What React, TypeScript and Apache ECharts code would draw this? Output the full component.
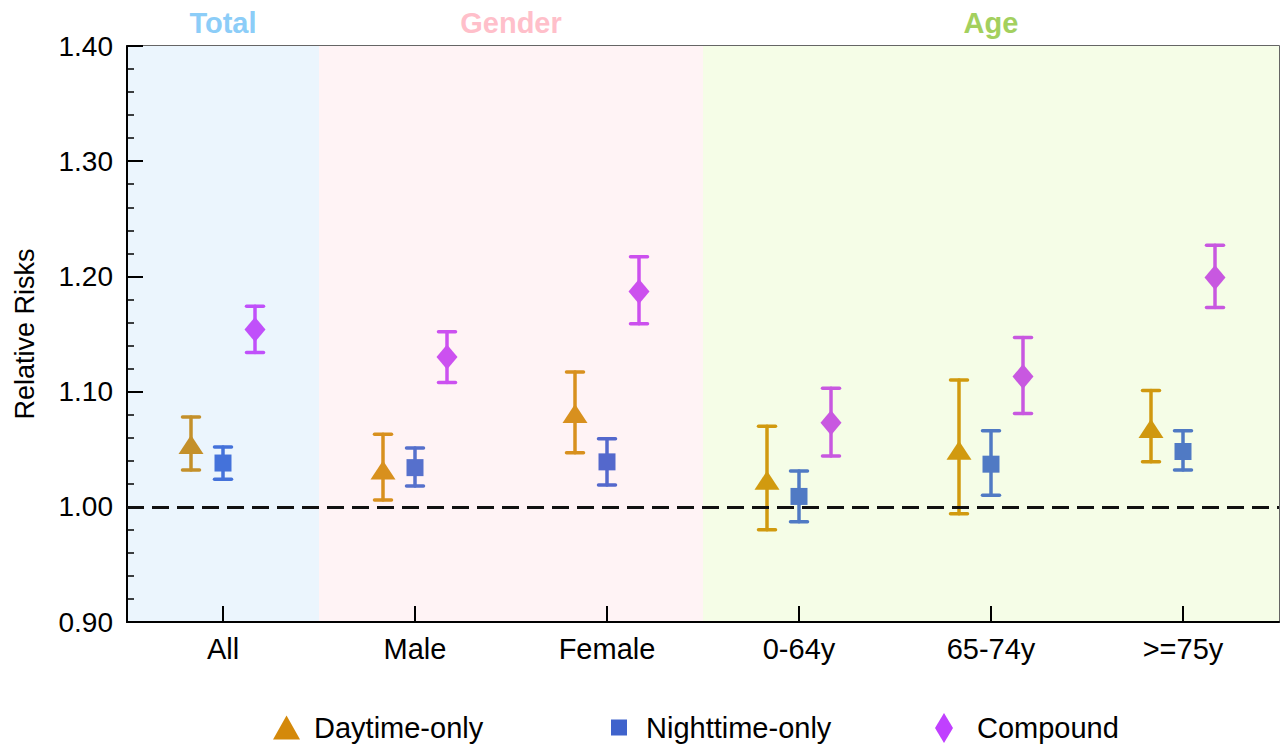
import React, { useEffect, useRef } from "react";
import * as echarts from "echarts";

// ---------- data ----------
const categories = ["All", "Male", "Female", "0-64y", "65-74y", ">=75y"];

const dayRR = [1.054, 1.032, 1.081, 1.023, 1.049, 1.068];
const dayLo = [1.032, 1.006, 1.047, 0.98, 0.994, 1.039];
const dayHi = [1.078, 1.063, 1.117, 1.07, 1.11, 1.101];

const nightRR = [1.038, 1.034, 1.039, 1.009, 1.037, 1.048];
const nightLo = [1.024, 1.018, 1.019, 0.987, 1.01, 1.032];
const nightHi = [1.052, 1.051, 1.059, 1.031, 1.066, 1.066];

const compRR = [1.154, 1.13, 1.187, 1.073, 1.113, 1.199];
const compLo = [1.134, 1.108, 1.159, 1.044, 1.081, 1.173];
const compHi = [1.174, 1.152, 1.217, 1.103, 1.147, 1.227];

const groupNames = ["Total", "Gender", "Age"];
const groupStart = [0, 1, 3];
const groupEnd = [1, 3, 6];

const seriesNames = ["Daytime-only", "Nighttime-only", "Compound"];
const yTicks = { min: 0.9, max: 1.4, step: 0.1 };
const refValue = 1.0;

// ---------- styles ----------
const FONT = "'Liberation Sans', Arial, Helvetica, sans-serif";
const groupBg = ["#ebf5fd", "#fff3f5", "#f5fde7"];
const groupTitleColor = ["#8ccdf8", "#ffbfca", "#a3d05e"];
const dayColors = ["#c4902a", "#d8901e", "#d8901e", "#d19a0f", "#d19a0f", "#d0980f"];
const nightColors = ["#4472da", "#5670cc", "#5468cc", "#507ac4", "#507ac4", "#507ac4"];
const compColors = ["#c050fa", "#cc50f0", "#cc50ee", "#c858e0", "#c858e0", "#c858e0"];
const legendColors = ["#d4890a", "#3f63cc", "#c040ff"];
const OFFSET = 32;

function errorBarSeries(name: string, lo: number[], hi: number[], colors: string[], offset: number) {
  return {
    type: "custom",
    name: name + " CI",
    xAxisIndex: 0,
    yAxisIndex: 0,
    z: 3,
    silent: true,
    data: lo.map((l, i) => [i, l, hi[i]]),
    renderItem: (params: any, api: any) => {
      const i = api.value(0);
      const pHi = api.coord([i, api.value(2)]);
      const pLo = api.coord([i, api.value(1)]);
      const x = pHi[0] + offset;
      const c = colors[params.dataIndex];
      const st = { stroke: c, lineWidth: 3.5, lineCap: "round" };
      const half = 8.5;
      return {
        type: "group",
        children: [
          { type: "line", shape: { x1: x, y1: pHi[1], x2: x, y2: pLo[1] }, style: st },
          { type: "line", shape: { x1: x - half, y1: pHi[1], x2: x + half, y2: pHi[1] }, style: st },
          { type: "line", shape: { x1: x - half, y1: pLo[1], x2: x + half, y2: pLo[1] }, style: st },
        ],
      };
    },
  };
}

function pointSeries(name: string, vals: number[], colors: string[], symbol: string, size: number[], offset: number, legendColor: string) {
  return {
    type: "scatter",
    name,
    xAxisIndex: 0,
    yAxisIndex: 0,
    z: 5,
    symbol,
    symbolSize: size,
    symbolOffset: [offset, 0],
    itemStyle: { color: legendColor, opacity: 1 },
    data: vals.map((v, i) => ({ value: [i, v], itemStyle: { color: colors[i] } })),
  };
}

export default function App() {
  const ref = useRef<HTMLDivElement>(null);
  useEffect(() => {
    if (!ref.current) return;
    const chart = echarts.init(ref.current, null, { renderer: "svg" });
    const textBase = { fontFamily: FONT, color: "#000" };
    const option: any = {
      animation: false,
      backgroundColor: "#fff",
      grid: {
        left: 127,
        top: 46,
        right: 5,
        bottom: 128,
        show: true,
        borderColor: "#333",
        borderWidth: 1.5,
        backgroundColor: "transparent",
      },
      xAxis: [
        {
          type: "category",
          data: categories,
          boundaryGap: true,
          axisLine: { lineStyle: { color: "#000", width: 2 } },
          axisTick: { show: true, inside: true, length: 16, alignWithLabel: true, lineStyle: { color: "#000", width: 2 } },
          axisLabel: { ...textBase, fontSize: 29, margin: 12 },
          splitLine: { show: false },
        },
        { type: "value", min: 0, max: 6, show: false },
      ],
      yAxis: {
        type: "value",
        min: yTicks.min,
        max: yTicks.max,
        interval: yTicks.step,
        name: "Relative Risks",
        nameLocation: "middle",
        nameGap: 89,
        nameTextStyle: { ...textBase, fontSize: 27 },
        axisLine: { show: true, lineStyle: { color: "#000", width: 2 } },
        axisTick: { show: true, inside: true, length: 16, lineStyle: { color: "#000", width: 2 } },
        minorTick: { show: true, splitNumber: 5, length: 7, lineStyle: { color: "#000", width: 1.5 } },
        axisLabel: { ...textBase, fontSize: 28, margin: 14, formatter: (v: number) => v.toFixed(2) },
        splitLine: { show: false },
        minorSplitLine: { show: false },
      },
      legend: [
        {
          data: [{ name: seriesNames[0], icon: "triangle", itemStyle: { color: legendColors[0] } }],
          left: 273, top: 713, itemWidth: 27, itemHeight: 24, padding: 0,
          textStyle: { ...textBase, fontSize: 29, padding: [0, 0, 0, 9] },
          selectedMode: false,
        },
        {
          data: [{ name: seriesNames[1], icon: "rect", itemStyle: { color: legendColors[1] } }],
          left: 611, top: 713, itemWidth: 16, itemHeight: 16, padding: 0,
          textStyle: { ...textBase, fontSize: 29, padding: [0, 0, 0, 14] },
          selectedMode: false,
        },
        {
          data: [{ name: seriesNames[2], icon: "diamond", itemStyle: { color: legendColors[2] } }],
          left: 935, top: 713, itemWidth: 18, itemHeight: 30, padding: 0,
          textStyle: { ...textBase, fontSize: 29, padding: [0, 0, 0, 19] },
          selectedMode: false,
        },
      ],
      series: [
        {
          type: "custom",
          name: "bands",
          xAxisIndex: 1,
          yAxisIndex: 0,
          z: 0,
          silent: true,
          clip: false,
          data: groupNames.map((g, i) => [groupStart[i], groupEnd[i], i]),
          renderItem: (params: any, api: any) => {
            const k = params.dataIndex;
            const a = api.coord([api.value(0), yTicks.max]);
            const b = api.coord([api.value(1), yTicks.min]);
            return {
              type: "group",
              children: [
                {
                  type: "rect",
                  shape: { x: a[0], y: a[1], width: b[0] - a[0], height: b[1] - a[1] },
                  style: { fill: groupBg[k] },
                },
                {
                  type: "text",
                  x: (a[0] + b[0]) / 2,
                  y: a[1] - 23,
                  style: {
                    text: groupNames[k],
                    fill: groupTitleColor[k],
                    font: `bold 29px ${FONT}`,
                    align: "center",
                    verticalAlign: "middle",
                  },
                },
              ],
            };
          },
          markLine: {
            silent: true,
            symbol: "none",
            label: { show: false },
            lineStyle: { color: "#111", width: 2.8, type: [17, 8] },
            data: [{ yAxis: refValue }],
          },
        },
        errorBarSeries(seriesNames[0], dayLo, dayHi, dayColors, -OFFSET),
        errorBarSeries(seriesNames[1], nightLo, nightHi, nightColors, 0),
        errorBarSeries(seriesNames[2], compLo, compHi, compColors, OFFSET),
        pointSeries(seriesNames[0], dayRR, dayColors, "triangle", [25, 19], -OFFSET, legendColors[0]),
        pointSeries(seriesNames[1], nightRR, nightColors, "rect", [17, 17], 0, legendColors[1]),
        pointSeries(seriesNames[2], compRR, compColors, "diamond", [21, 25], OFFSET, legendColors[2]),
      ],
    };
    chart.setOption(option);
    return () => chart.dispose();
  }, []);
  return <div ref={ref} style={{ width: 1284, height: 750, position: "absolute", left: 0, top: 0 }} />;
}
